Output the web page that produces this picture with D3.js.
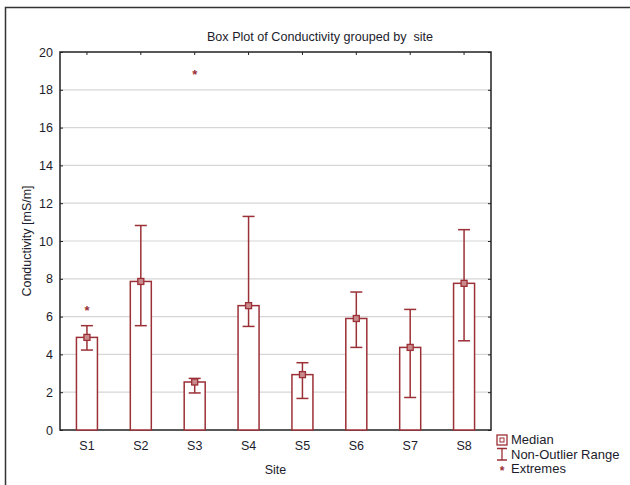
<!DOCTYPE html>
<html>
<head>
<meta charset="utf-8">
<script src="https://cdn.jsdelivr.net/npm/d3@7"></script>
<style>
  body { margin: 0; background: #fff; }
  text { font-family: "Liberation Sans", Arial, sans-serif; }
</style>
</head>
<body>
<div id="chart"></div>
<script>
const sites = ["S1", "S2", "S3", "S4", "S5", "S6", "S7", "S8"];
const medians = [4.9, 7.86, 2.54, 6.58, 2.93, 5.9, 4.37, 7.76];
const whiskerLow = [4.23, 5.52, 1.96, 5.48, 1.67, 4.37, 1.72, 4.72];
const whiskerHigh = [5.52, 10.82, 2.73, 11.3, 3.56, 7.3, 6.38, 10.6];
const extremes = [["S1", 6.45], ["S3", 18.89]];
const yTicks = [0, 2, 4, 6, 8, 10, 12, 14, 16, 18, 20];

const W = 630, H = 485;
const m = { left: 60, top: 52, right: 491, bottom: 430 };
const col = "#9b3036";
const ink = "#1c1c2c";

const svg = d3.select("#chart").append("svg")
  .attr("width", W).attr("height", H);

// outer frame
svg.append("path")
  .attr("d", `M5.5,${H} V7.5 H${W}`)
  .attr("fill", "none").attr("stroke", "#333").attr("stroke-width", 1.5);

const x = d3.scaleBand().domain(sites).range([m.left, m.right]);
const y = d3.scaleLinear().domain([0, 20]).range([m.bottom, m.top]);

// grid
svg.append("g").selectAll("line").data(yTicks.slice(1, -1)).join("line")
  .attr("x1", m.left).attr("x2", m.right)
  .attr("y1", d => y(d)).attr("y2", d => y(d))
  .attr("stroke", "#d6d6d6").attr("stroke-width", 1.2);

// axes
const axLeft = svg.append("g").attr("transform", `translate(${m.left},0)`)
  .call(d3.axisLeft(y).tickValues(yTicks).tickSize(-3).tickPadding(7));
const axRight = svg.append("g").attr("transform", `translate(${m.right},0)`)
  .call(d3.axisRight(y).tickValues(yTicks).tickSize(-3).tickFormat(""));
const axTop = svg.append("g").attr("transform", `translate(0,${m.top})`)
  .call(d3.axisTop(x).tickSize(-3).tickFormat(""));
const axBottom = svg.append("g").attr("transform", `translate(0,${m.bottom})`)
  .call(d3.axisBottom(x).tickSize(0).tickPadding(11));
[axLeft, axRight, axTop, axBottom].forEach(g => {
  g.select(".domain").remove();
  g.selectAll("line").attr("stroke", "#222");
  g.selectAll("text").attr("font-size", 12.5).attr("fill", ink)
    .style("font-family", "'Liberation Sans', Arial, sans-serif");
});
svg.append("rect")
  .attr("x", m.left).attr("y", m.top)
  .attr("width", m.right - m.left).attr("height", m.bottom - m.top)
  .attr("fill", "none").attr("stroke", "#222").attr("stroke-width", 1.5);

const bw = 21;
const cx = s => x(s) + x.bandwidth() / 2;

const g = svg.append("g");
// bars
g.selectAll("rect.bar").data(sites).join("rect").attr("class", "bar")
  .attr("x", s => cx(s) - bw / 2).attr("width", bw)
  .attr("y", (s, i) => y(medians[i]))
  .attr("height", (s, i) => y(0) - y(medians[i]))
  .attr("fill", "#fff").attr("stroke", col).attr("stroke-width", 1.5);

// whiskers
const wk = g.selectAll("g.wk").data(sites).join("g").attr("class", "wk")
  .attr("stroke", col).attr("stroke-width", 1.5);
wk.append("line")
  .attr("x1", cx).attr("x2", cx)
  .attr("y1", (s, i) => y(whiskerLow[i])).attr("y2", (s, i) => y(whiskerHigh[i]));
wk.append("line")
  .attr("x1", s => cx(s) - 6).attr("x2", s => cx(s) + 6)
  .attr("y1", (s, i) => y(whiskerHigh[i])).attr("y2", (s, i) => y(whiskerHigh[i]));
wk.append("line")
  .attr("x1", s => cx(s) - 6).attr("x2", s => cx(s) + 6)
  .attr("y1", (s, i) => y(whiskerLow[i])).attr("y2", (s, i) => y(whiskerLow[i]));

// median markers
g.selectAll("rect.med").data(sites).join("rect").attr("class", "med")
  .attr("x", s => cx(s) - 3).attr("y", (s, i) => y(medians[i]) - 3)
  .attr("width", 6).attr("height", 6)
  .attr("fill", "#c98a8c").attr("stroke", col).attr("stroke-width", 1.3);

// extremes
g.selectAll("text.ext").data(extremes).join("text").attr("class", "ext")
  .attr("x", d => cx(d[0])).attr("y", d => y(d[1]) + 6.5)
  .attr("text-anchor", "middle").attr("font-size", 13).attr("font-weight", "bold")
  .attr("fill", col).text("*");

// title and labels
svg.append("text").attr("x", 320).attr("y", 41).attr("text-anchor", "middle")
  .attr("font-size", 12.6).attr("fill", ink).text("Box Plot of Conductivity grouped by  site")
  .style("white-space", "pre");
svg.append("text").attr("x", (m.left + m.right) / 2).attr("y", 473.5).attr("text-anchor", "middle")
  .attr("font-size", 12.5).attr("fill", ink).text("Site");
svg.append("text").attr("transform", `translate(31,${(m.top + m.bottom) / 2}) rotate(-90)`)
  .attr("text-anchor", "middle").attr("font-size", 12.5).attr("fill", ink)
  .text("Conductivity [mS/m]");

// legend
const lg = svg.append("g").attr("transform", "translate(502,0)");
lg.append("rect").attr("x", -5).attr("y", 435).attr("width", 10).attr("height", 10)
  .attr("fill", "none").attr("stroke", col).attr("stroke-width", 1.3);
lg.append("rect").attr("x", -2).attr("y", 438).attr("width", 4).attr("height", 4)
  .attr("fill", "none").attr("stroke", col).attr("stroke-width", 1);
lg.append("path").attr("d", "M-5,448.5 H5 M0,448.5 V460 M-5,460 H5")
  .attr("stroke", col).attr("stroke-width", 1.3).attr("fill", "none");
lg.append("text").attr("x", 0).attr("y", 474.5).attr("text-anchor", "middle")
  .attr("font-size", 12).attr("font-weight", "bold").attr("fill", col).text("*");
const legendItems = ["Median", "Non-Outlier Range", "Extremes"];
lg.selectAll("text.lt").data(legendItems).join("text").attr("class", "lt")
  .attr("x", 9).attr("y", (d, i) => 444 + i * 14.5)
  .attr("font-size", 13).attr("fill", ink).text(d => d);
</script>
</body>
</html>
